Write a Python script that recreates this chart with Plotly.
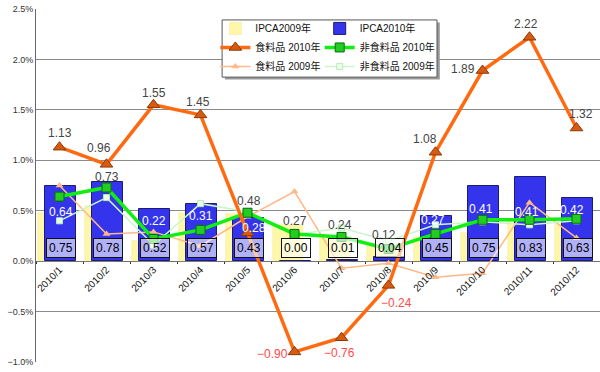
import plotly.graph_objects as go

months = ['2010/1', '2010/2', '2010/3', '2010/4', '2010/5', '2010/6',
          '2010/7', '2010/8', '2010/9', '2010/10', '2010/11', '2010/12']
ipca_2009 = [0.48, 0.55, 0.20, 0.48, 0.47, 0.36, 0.24, 0.15, 0.24, 0.28, 0.41, 0.37]
ipca_2010 = [0.75, 0.78, 0.52, 0.57, 0.43, 0.00, 0.01, 0.04, 0.45, 0.75, 0.83, 0.63]
food_2010 = [1.13, 0.96, 1.55, 1.45, 0.28, -0.90, -0.76, -0.24, 1.08, 1.89, 2.22, 1.32]
nonfood_2010 = [0.64, 0.73, 0.22, 0.31, 0.48, 0.27, 0.24, 0.12, 0.27, 0.41, 0.41, 0.42]
food_2009 = [0.75, 0.27, 0.29, 0.15, 0.44, 0.69, -0.07, -0.02, -0.16, -0.12, 0.58, 0.23]
nonfood_2009 = [0.40, 0.63, 0.16, 0.57, 0.49, 0.26, 0.33, 0.20, 0.36, 0.39, 0.36, 0.40]

FONT = "Liberation Sans, Noto Sans CJK JP, sans-serif"

fig = go.Figure()

fig.add_trace(go.Bar(x=months, y=ipca_2009, name='IPCA2009年',
                     marker=dict(color='#fff7a8', line=dict(color='#f0e890', width=0.5)),
                     width=0.64, offset=-0.45, legend='legend', legendrank=1))
fig.add_trace(go.Bar(x=months, y=ipca_2010, name='IPCA2010年',
                     marker=dict(color='#3434ec', line=dict(color='#1c1c78', width=1)),
                     width=0.66, offset=-0.31, legend='legend2', legendrank=2))
fig.add_trace(go.Scatter(x=months, y=food_2009, name='食料品 2009年', mode='lines+markers',
                         line=dict(color='#ffb888', width=1.5),
                         marker=dict(symbol='triangle-up', size=7, color='#ffb888'),
                         legend='legend', legendrank=5))
fig.add_trace(go.Scatter(x=months, y=nonfood_2009, name='非食料品 2009年', mode='lines+markers',
                         line=dict(color='#ccf5cc', width=1.5),
                         marker=dict(symbol='square', size=6, color='#eaffea',
                                     line=dict(color='#b8eab8', width=1)),
                         legend='legend2', legendrank=6))
fig.add_trace(go.Scatter(x=months, y=nonfood_2010, name='非食料品 2010年', mode='lines+markers',
                         line=dict(color='#11ee11', width=3.5),
                         marker=dict(symbol='square', size=9, color='#22cc22',
                                     line=dict(color='#0a6a0a', width=1)),
                         legend='legend2', legendrank=4))
fig.add_trace(go.Scatter(x=months, y=food_2010, name='食料品 2010年', mode='lines+markers',
                         line=dict(color='#ff6a10', width=3.5),
                         marker=dict(symbol='triangle-up', size=11, color='#d85a10',
                                     line=dict(color='#8a3a08', width=1)),
                         legend='legend', legendrank=3))

annotations = []
for m, v in zip(months, ipca_2010):
    annotations.append(dict(x=m, y=0.13, text=f'{v:.2f}', showarrow=False,
                            font=dict(family=FONT, size=12, color='#000'),
                            bgcolor='rgba(255,255,255,0.62)', bordercolor='#111',
                            borderwidth=1, borderpad=2, xshift=1))

food_off = [(0, 14), (-8, 16), (0, 12), (-3, 13), (6, 5), (-22, -2),
            (-2, -15), (8, -18), (-11, 13), (-20, 2), (-4, 13), (4, 14)]
food_col = ['#444', '#444', '#444', '#444', '#fff', '#ff4a4a',
            '#ff4a4a', '#ff4a4a', '#444', '#444', '#444', '#444']
for m, v, (dx, dy), c in zip(months, food_2010, food_off, food_col):
    annotations.append(dict(x=m, y=v, text=f'{v:.2f}'.replace('-', '−'), showarrow=False,
                            font=dict(family=FONT, size=12, color=c),
                            xshift=dx, yshift=dy))

nf_off = [(1, -15), (0, 11), (0, 18), (0, 14), (1, 12), (0, 13),
          (-2, 12), (-5, 14), (-3, 14), (-2, 11), (-3, 8), (-5, 9)]
nf_col = ['#fff', '#444', '#fff', '#fff', '#444', '#444',
          '#444', '#444', '#fff', '#fff', '#fff', '#fff']
for m, v, (dx, dy), c in zip(months, nonfood_2010, nf_off, nf_col):
    annotations.append(dict(x=m, y=v, text=f'{v:.2f}', showarrow=False,
                            font=dict(family=FONT, size=12, color=c),
                            xshift=dx, yshift=dy))

W, H = 600, 372
ml, mr, mt, mb = 36, 0, 9, 10
zero_pos = 1.0 / 3.5

legend_common = dict(bgcolor='rgba(0,0,0,0)', borderwidth=0,
                     font=dict(family=FONT, size=10, color='#111'),
                     itemwidth=30, tracegroupgap=0, xanchor='left', yanchor='top')

fig.update_layout(
    width=W, height=H,
    margin=dict(l=ml, r=mr, t=mt, b=mb, autoexpand=False),
    paper_bgcolor='white', plot_bgcolor='white',
    barmode='overlay', bargap=0,
    font=dict(family=FONT, size=10, color='#222'),
    annotations=annotations,
    legend=dict(x=0.318, y=0.986, **legend_common),
    legend2=dict(x=0.503, y=0.986, **legend_common),
    shapes=[
        dict(type='rect', xref='paper', yref='paper', x0=0.335, x1=0.716,
             y0=0.800, y1=0.962, line=dict(width=0), fillcolor='#9a9a9a', layer='above'),
        dict(type='rect', xref='paper', yref='paper', x0=0.330, x1=0.711,
             y0=0.807, y1=0.969, line=dict(color='#555', width=1), fillcolor='white', layer='above'),
    ],
    xaxis=dict(type='category', range=[-0.5, 11.5], anchor='free', position=zero_pos,
               tickangle=-45, tickfont=dict(family=FONT, size=10, color='#111'),
               showgrid=False, showline=False, ticks='outside', tickson='boundaries',
               ticklen=2, tickcolor='#333', zeroline=False, automargin=False),
    yaxis=dict(range=[-1.0, 2.5], dtick=0.5, tickformat='.1f', ticksuffix='%',
               showgrid=True, gridcolor='#8a8a8a', gridwidth=1,
               zeroline=True, zerolinecolor='#707070', zerolinewidth=1,
               showline=True, linecolor='#666', linewidth=1, automargin=False,
               tickfont=dict(family=FONT, size=9, color='#333'), ticks=''),
)

fig.write_html('out.html', config={'displayModeBar': False},
               post_script="document.body.style.margin='0';document.body.style.overflow='hidden';")
